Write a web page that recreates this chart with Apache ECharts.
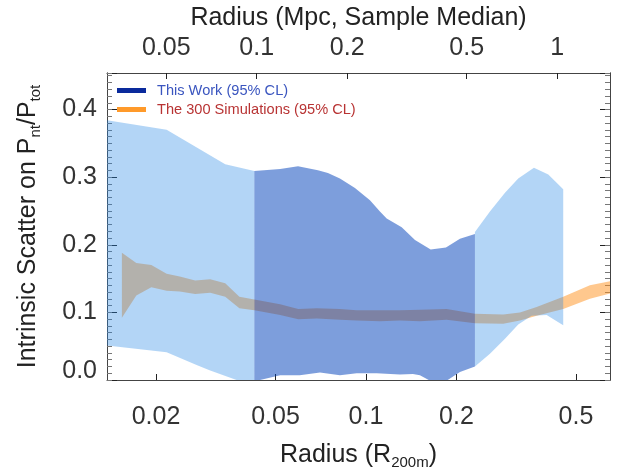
<!DOCTYPE html>
<html>
<head>
<meta charset="utf-8">
<script src="https://cdn.jsdelivr.net/npm/echarts@6/dist/echarts.min.js"></script>
<style>
    html, body { margin: 0; padding: 0; background: #fff; }
    #chart { width: 635px; height: 475px; }
</style>
</head>
<body>
<div id="chart"></div>
<script>
// axis ranges (radius in R200m) and tick labels
const xMin = 0.01374
const xMax = 0.649
const r200mToMpc = 2.31
const yMax = 0.454
const xTicks = [0.02, 0.05, 0.1, 0.2, 0.5]
const mpcTicks = [0.05, 0.1, 0.2, 0.5, 1]
const yTicks = [0, 0.1, 0.2, 0.3, 0.4]

// This Work: [radius, scatter] along the band edges
const lightLeftTop = [[0.01374, 0.384], [0.0217, 0.370], [0.0340, 0.319], [0.0425, 0.309]]
const lightLeftBottom = [[0.01374, 0.051], [0.0217, 0.041], [0.0273, 0.022], [0.0303, 0.014], [0.0371, 0.000], [0.0425, -0.002]]
const darkTop = [[0.0425, 0.309], [0.0518, 0.312], [0.0594, 0.316], [0.0692, 0.310], [0.0747, 0.306], [0.0819, 0.298],
    [0.0919, 0.284], [0.1031, 0.266], [0.1113, 0.249], [0.1172, 0.239], [0.1315, 0.226], [0.1456, 0.207],
    [0.1642, 0.193], [0.1846, 0.196], [0.2055, 0.209], [0.2305, 0.216]]
const darkBottom = [[0.0425, -0.002], [0.0518, 0.007], [0.0602, 0.007], [0.0703, 0.011], [0.0819, 0.007], [0.0931, 0.010],
    [0.1085, 0.010], [0.1297, 0.008], [0.1433, 0.009], [0.1512, 0.007], [0.1633, -0.001], [0.1719, -0.002],
    [0.1856, -0.001], [0.2055, 0.012], [0.2305, 0.020]]
const lightRightTop = [[0.2305, 0.219], [0.2586, 0.249], [0.2902, 0.277], [0.3212, 0.298], [0.3623, 0.314], [0.4044, 0.304], [0.4535, 0.282]]
const lightRightBottom = [[0.2305, 0.020], [0.2586, 0.039], [0.2902, 0.061], [0.3212, 0.082], [0.3560, 0.095], [0.3993, 0.096], [0.4535, 0.081]]

// The 300 Simulations
const simR = [0.0154, 0.0172, 0.0193, 0.0217, 0.0240, 0.0270, 0.0303, 0.0340, 0.0379, 0.0425, 0.0518, 0.0595, 0.0686,
    0.0819, 0.0931, 0.1113, 0.1297, 0.1512, 0.1856, 0.2305, 0.2863, 0.3255, 0.3699, 0.4535, 0.5564, 0.649]
const simLo = [0.092, 0.125, 0.137, 0.132, 0.131, 0.127, 0.129, 0.123, 0.106, 0.103, 0.096, 0.090, 0.091,
    0.089, 0.088, 0.087, 0.088, 0.087, 0.089, 0.084, 0.083, 0.088, 0.095, 0.105, 0.120, 0.128]
const simHi = [0.188, 0.173, 0.170, 0.157, 0.153, 0.147, 0.149, 0.143, 0.123, 0.119, 0.112, 0.105, 0.106,
    0.105, 0.103, 0.103, 0.103, 0.104, 0.105, 0.098, 0.097, 0.100, 0.108, 0.123, 0.140, 0.146]

const lg = Math.log10
const font = "'Liberation Sans', Arial, sans-serif"
const fmt = v => String(parseFloat(Math.pow(10, v).toPrecision(3)))

function band(name, top, bottom, fill) {
    return {
        type: 'custom',
        name: name,
        silent: true,
        xAxisIndex: 0,
        yAxisIndex: 0,
        data: top.map(p => [lg(p[0]), p[1]]),
        renderItem: function(params, api) {
            if (params.dataIndex !== 0) return null
            let pts = top.map(p => api.coord([lg(p[0]), p[1]]))
            bottom.slice().reverse().forEach(p => pts.push(api.coord([lg(p[0]), p[1]])))
            return {
                type: 'polygon',
                shape: { points: pts },
                style: { fill: fill },
                clipPath: { type: 'rect', shape: { x: params.coordSys.x, y: params.coordSys.y, width: params.coordSys.width, height: params.coordSys.height } }
            }
        }
    }
}

function yAx(pos, minor) {
    return {
        type: 'value',
        position: pos,
        min: 0,
        max: yMax,
        interval: minor ? 0.01 : 0.1,
        axisLine: { show: true, onZero: false, lineStyle: { color: '#444', width: 1 } },
        axisTick: { show: true, inside: true, length: minor ? 5 : 10, lineStyle: { color: minor ? '#777' : '#222' } },
        splitLine: { show: false },
        axisLabel: {
            show: pos === 'left' && !minor,
            margin: 10,
            fontSize: 25,
            fontFamily: font,
            color: '#333',
            formatter: function(v) {
                if (Math.abs(v) < 1e-9) return '{z|0.0}'
                return yTicks.some(t => Math.abs(t - v) < 1e-9) ? v.toFixed(1) : ''
            },
            rich: { z: { fontSize: 25, fontFamily: font, color: '#333', padding: [0, 0, 18, 0] } }
        },
        name: (pos === 'left' && !minor) ? '{a|Intrinsic Scatter on P}{s|nt}{a|/P}{s|tot}' : '',
        nameLocation: 'middle',
        nameGap: 64,
        nameTextStyle: {
            rich: {
                a: { fontSize: 25, lineHeight: 30, fontFamily: font, color: '#222' },
                s: { fontSize: 15, lineHeight: 10, verticalAlign: 'bottom', fontFamily: font, color: '#222' }
            }
        }
    }
}

const chart = echarts.init(document.getElementById('chart'))
chart.setOption({
    animation: false,
    grid: { left: 107, right: 25, top: 73, bottom: 94 },
    legend: {
        left: 117,
        top: 83,
        padding: 0,
        orient: 'vertical',
        icon: 'rect',
        itemWidth: 29,
        itemHeight: 5,
        itemGap: 4,
        selectedMode: false,
        textStyle: { fontSize: 14.6, fontFamily: font, padding: [0, 0, 0, 6] },
        data: [
            { name: 'This Work (95% CL)', itemStyle: { color: '#0a2a9c' }, textStyle: { color: '#3a55bf' } },
            { name: 'The 300 Simulations (95% CL)', itemStyle: { color: '#ff9a2a' }, textStyle: { color: '#b83333' } }
        ]
    },
    xAxis: [
        {
            type: 'value',
            position: 'bottom',
            min: lg(xMin),
            max: lg(xMax),
            axisLine: { show: true, onZero: false, lineStyle: { color: '#444' } },
            axisTick: { show: true, inside: true, length: 6, customValues: xTicks.map(lg), lineStyle: { color: '#222' } },
            axisLabel: { customValues: xTicks.map(lg), formatter: fmt, margin: 25, fontSize: 25, fontFamily: font, color: '#333' },
            splitLine: { show: false },
            name: '{a|Radius (R}{s|200m}{a|)}',
            nameLocation: 'middle',
            nameGap: 60,
            nameTextStyle: {
                rich: {
                    a: { fontSize: 25, lineHeight: 30, fontFamily: font, color: '#222' },
                    s: { fontSize: 15, lineHeight: 10, verticalAlign: 'bottom', fontFamily: font, color: '#222' }
                }
            }
        },
        {
            type: 'value',
            position: 'top',
            min: lg(xMin * r200mToMpc),
            max: lg(xMax * r200mToMpc),
            axisLine: { show: true, onZero: false, lineStyle: { color: '#444' } },
            axisTick: { show: true, inside: true, length: 6, customValues: mpcTicks.map(lg), lineStyle: { color: '#222' } },
            axisLabel: { customValues: mpcTicks.map(lg), formatter: fmt, margin: 12, fontSize: 25, fontFamily: font, color: '#333' },
            splitLine: { show: false },
            name: 'Radius (Mpc, Sample Median)',
            nameLocation: 'middle',
            nameGap: 42,
            nameTextStyle: { fontSize: 25, fontFamily: font, color: '#222' }
        }
    ],
    yAxis: [yAx('left', false), yAx('left', true), yAx('right', false), yAx('right', true)],
    series: [
        band('The 300 Simulations (95% CL)', simR.map((r, i) => [r, simHi[i]]), simR.map((r, i) => [r, simLo[i]]), 'rgba(255,145,30,0.5)'),
        band('light-left', lightLeftTop, lightLeftBottom, 'rgba(38,135,229,0.35)'),
        band('This Work (95% CL)', darkTop, darkBottom, 'rgba(0,65,186,0.51)'),
        band('light-right', lightRightTop, lightRightBottom, 'rgba(38,135,229,0.35)')
    ]
})
</script>
</body>
</html>
